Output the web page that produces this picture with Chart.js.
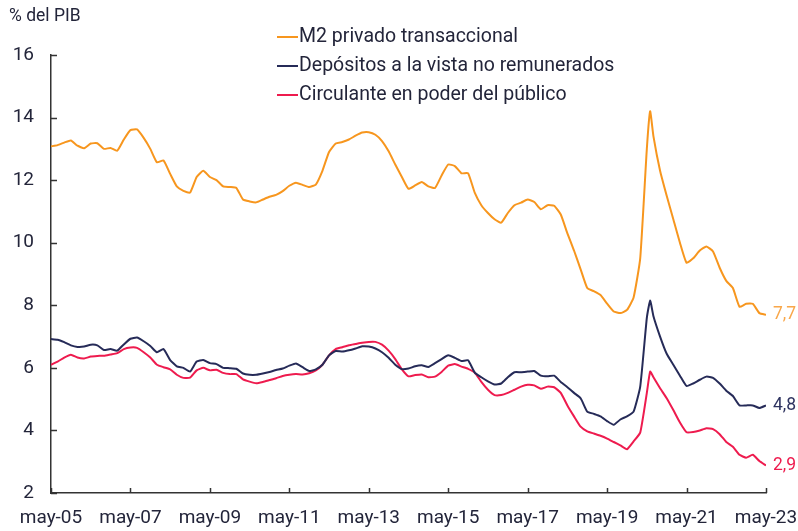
<!DOCTYPE html>
<html><head><meta charset="utf-8">
<script src="https://cdn.jsdelivr.net/npm/chart.js@4.4.0/dist/chart.umd.min.js"></script>
<style>html,body{margin:0;padding:0;background:#fff;}#wrap{width:798px;height:531px;}</style>
</head><body><div id="wrap"><canvas id="c" width="798" height="531"></canvas></div>
<script>
// months since may-05 (bimonthly, plus jun-20 peak)
const monthIdx = [0,2,4,6,8,10,12,14,16,18,20,22,24,26,28,30,32,34,36,38,40,42,44,46,48,50,52,54,56,58,60,62,64,66,68,70,72,74,76,78,80,82,84,86,88,90,92,94,96,98,100,102,104,106,108,110,112,114,116,118,120,122,124,126,128,130,132,134,136,138,140,142,144,146,148,150,152,154,156,158,160,162,164,166,168,170,172,174,176,178,180,181,182,184,186,188,190,192,194,196,198,200,202,204,206,208,210,212,214,216];
const tickMonths = [0,24,48,72,96,120,144,168,192,216];
const tickLabels = ['may-05','may-07','may-09','may-11','may-13','may-15','may-17','may-19','may-21','may-23'];
const yTicks = [2,4,6,8,10,12,14,16];
const seriesNames = ['M2 privado transaccional','Depósitos a la vista no remunerados','Circulante en poder del público'];
const endLabels = ['7,7','4,8','2,9'];
const yAxisTitle = '% del PIB';

const m2 = [13.08,13.12,13.2,13.27,13.1,13.02,13.17,13.18,13.0,13.03,
 12.94,13.3,13.6,13.62,13.35,13.0,12.57,12.63,12.2,11.8,
 11.66,11.6,12.1,12.3,12.1,12.0,11.8,11.78,11.75,11.38,
 11.32,11.29,11.38,11.47,11.53,11.65,11.82,11.92,11.85,11.78,
 11.86,12.3,12.9,13.17,13.22,13.3,13.42,13.52,13.53,13.45,
 13.25,12.92,12.5,12.1,11.72,11.83,11.94,11.8,11.75,12.15,
 12.5,12.45,12.22,12.22,11.6,11.2,10.95,10.75,10.64,10.95,
 11.2,11.28,11.38,11.3,11.07,11.2,11.18,10.9,10.3,9.75,
 9.15,8.55,8.45,8.33,8.05,7.8,7.75,7.85,8.25,9.5,
 13.0,14.2,
 13.4,12.3,11.5,10.75,10.0,9.36,9.5,9.75,9.88,
 9.72,9.2,8.78,8.55,7.95,8.05,8.05,7.75,7.7];
const depositos = [6.92,6.9,6.82,6.72,6.67,6.68,6.74,6.72,6.57,6.6,
 6.55,6.75,6.93,6.97,6.85,6.7,6.5,6.6,6.25,6.05,
 6.0,5.88,6.2,6.25,6.15,6.12,6.0,5.99,5.97,5.82,
 5.78,5.78,5.82,5.87,5.93,5.98,6.07,6.14,6.02,5.9,
 5.95,6.1,6.4,6.54,6.52,6.56,6.62,6.69,6.68,6.62,
 6.5,6.32,6.1,5.96,5.98,6.05,6.08,6.03,6.15,6.28,
 6.4,6.32,6.22,6.24,5.85,5.7,5.57,5.47,5.5,5.7,
 5.86,5.86,5.88,5.9,5.75,5.73,5.75,5.55,5.38,5.2,
 5.03,4.6,4.53,4.45,4.3,4.18,4.35,4.45,4.6,5.4,
 7.6,8.15,
 7.65,7.0,6.45,6.1,5.75,5.42,5.5,5.62,5.72,
 5.68,5.5,5.27,5.1,4.8,4.8,4.8,4.72,4.8];
const circulante = [6.1,6.2,6.33,6.42,6.33,6.3,6.36,6.38,6.39,6.43,
 6.47,6.6,6.65,6.64,6.5,6.33,6.1,6.02,5.95,5.78,
 5.68,5.69,5.92,6.0,5.92,5.94,5.84,5.8,5.8,5.63,
 5.56,5.51,5.55,5.61,5.67,5.74,5.78,5.8,5.79,5.83,
 5.92,6.1,6.4,6.6,6.66,6.72,6.76,6.8,6.83,6.83,
 6.74,6.55,6.28,5.95,5.73,5.77,5.79,5.7,5.72,5.87,
 6.07,6.12,6.04,5.97,5.85,5.55,5.3,5.13,5.13,5.2,
 5.3,5.4,5.46,5.44,5.33,5.4,5.38,5.2,4.8,4.45,
 4.12,3.97,3.9,3.83,3.74,3.63,3.52,3.4,3.65,3.93,
 5.2,5.88,
 5.7,5.35,5.03,4.65,4.25,3.94,3.95,4.0,4.07,
 4.04,3.88,3.63,3.48,3.22,3.13,3.22,3.02,2.88];

const colors = ['#F7961E','#262B58','#EE1B4E'];
const labelColors = ['#F9A74A','#2E3360','#EE1B4E'];
const textColor = '#23253a';
const FONT = 'Roboto, "Liberation Sans", sans-serif';

const toPts = arr => arr.map((v,i)=>({x:monthIdx[i], y:v}));

const deco = {
  id:'deco',
  afterDraw(chart){
    const ctx = chart.ctx, xs = chart.scales.x, ys = chart.scales.y, ca = chart.chartArea;
    ctx.save();
    ctx.strokeStyle = '#333'; ctx.lineWidth = 1.5;
    ctx.beginPath();
    yTicks.forEach(v=>{ const y = Math.round(ys.getPixelForValue(v))+0.5; ctx.moveTo(ca.left, y); ctx.lineTo(ca.left+6, y); });
    tickMonths.forEach(m=>{ const x = Math.round(xs.getPixelForValue(m))+0.5; ctx.moveTo(x, ca.bottom); ctx.lineTo(x, ca.bottom-5); });
    ctx.stroke();
    // axis title
    ctx.fillStyle = textColor; ctx.font = '17.5px ' + FONT; ctx.textBaseline='middle'; ctx.textAlign='left';
    ctx.fillText(yAxisTitle, 9, 17);
    // legend
    const rows = [37, 66, 95];
    ctx.font = '19.5px ' + FONT;
    seriesNames.forEach((n,i)=>{
      ctx.strokeStyle = colors[i]; ctx.lineWidth = 2;
      ctx.beginPath(); ctx.moveTo(277, rows[i]); ctx.lineTo(298, rows[i]); ctx.stroke();
      ctx.fillStyle = textColor; ctx.fillText(n, 299, rows[i]);
    });
    // end labels
    ctx.font = '17.5px ' + FONT;
    chart.data.datasets.forEach((ds,i)=>{
      const meta = chart.getDatasetMeta(i); const p = meta.data[meta.data.length-1];
      ctx.fillStyle = labelColors[i]; ctx.fillText(endLabels[i], p.x + 7, p.y);
    });
    ctx.restore();
  }
};

new Chart(document.getElementById('c'), {
  type:'line',
  data:{ datasets:[
    {label:seriesNames[0], data:toPts(m2), borderColor:colors[0]},
    {label:seriesNames[1], data:toPts(depositos), borderColor:colors[1]},
    {label:seriesNames[2], data:toPts(circulante), borderColor:colors[2]}
  ]},
  options:{
    responsive:false, animation:false, devicePixelRatio:1,
    layout:{padding:{top:55, right:32, left:0, bottom:0}},
    elements:{ point:{radius:0}, line:{borderWidth:2, tension:0.15} },
    plugins:{ legend:{display:false}, tooltip:{enabled:false} },
    scales:{
      x:{ type:'linear', min:0, max:216,
        afterBuildTicks(s){ s.ticks = tickMonths.map(v=>({value:v})); },
        afterFit(s){ s.height = 38; s.paddingLeft = 0; s.paddingRight = 0; },
        grid:{display:false, drawTicks:false},
        border:{display:true, color:'#333', width:1.5},
        ticks:{ autoSkip:false, maxRotation:0, padding:14, color:textColor, font:{family:FONT, size:19},
          callback:(v)=> tickLabels[tickMonths.indexOf(v)] }
      },
      y:{ min:2, max:16,
        afterBuildTicks(s){ s.ticks = yTicks.map(v=>({value:v})); },
        afterFit(s){ s.width = 51; s.paddingTop = 0; s.paddingBottom = 0; },
        grid:{display:false, drawTicks:false},
        border:{display:true, color:'#333', width:1.5},
        ticks:{ padding:17, color:textColor, font:{family:FONT, size:19} }
      }
    }
  },
  plugins:[deco]
});
</script></body></html>
